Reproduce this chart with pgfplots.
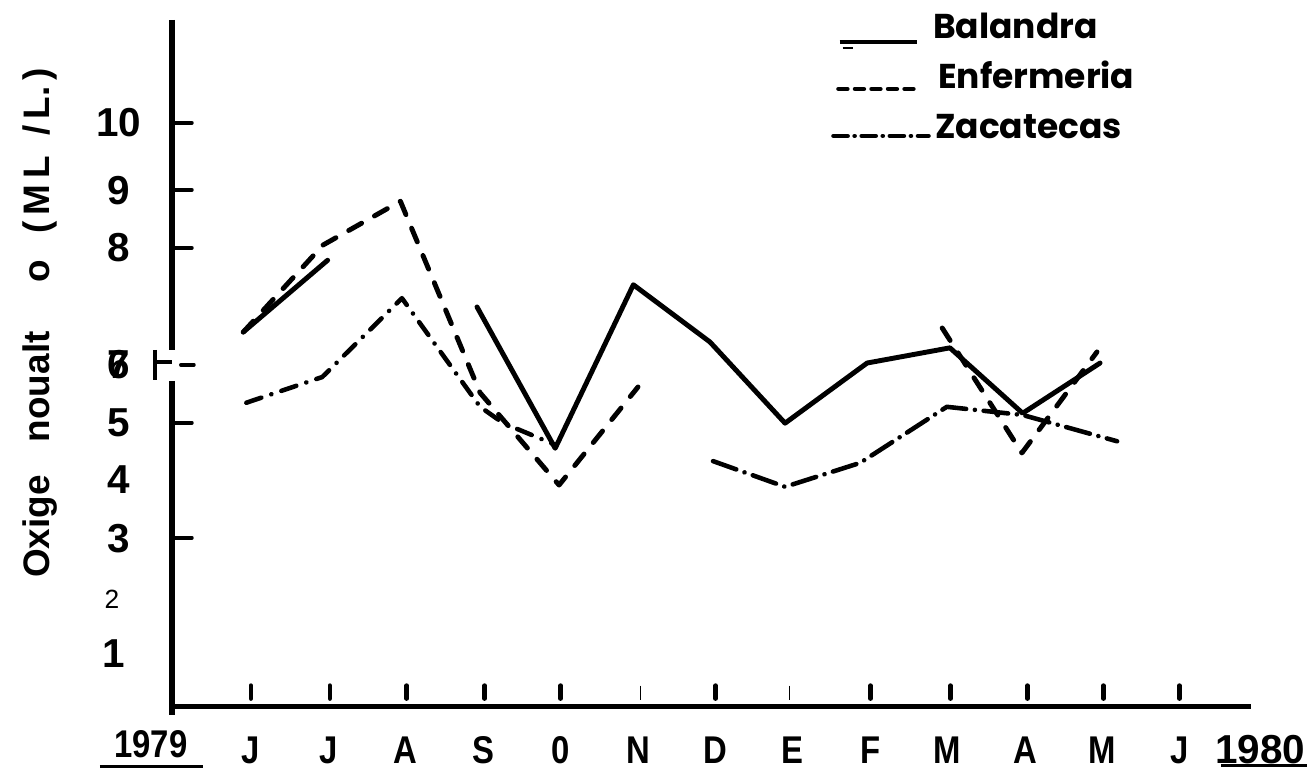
\documentclass[border=0pt]{standalone}
\usepackage{fontspec}
\setmainfont{Liberation Sans}
\newfontfamily\legfont{Poppins}
\usepackage{graphicx}
\usepackage{pgfplots}
\pgfplotsset{compat=1.18}
\newcommand\nar[1]{\scalebox{0.85}[1]{#1}}
\begin{document}
\begin{tikzpicture}
\useasboundingbox (0,0) rectangle (13.08cm,7.69cm);
\begin{axis}[at={(1.72cm,0.62cm)}, anchor=south west, scale only axis,
  width=10.80cm, height=6.87cm,
  xmin=-1.0207, xmax=12.933, ymin=0, ymax=11.764,
  axis line style={draw=none}, major tick length=0pt, clip=false,
  xtick={0,1,2,3,4,5,6,7,8,9,10,11,12},
  xticklabels={\nar{J},\nar{J},\nar{A},\nar{S},\nar{0},\nar{N},\nar{D},\nar{E},\nar{F},\nar{M},\nar{A},\nar{M},\nar{J}},
  xticklabel style={anchor=center, yshift=-0.43cm, font=\bfseries\fontsize{11}{13}\selectfont},
  ytick={10,8.85,7.86,5.86,4.86,3.89,2.89},
  yticklabels={10,9,8,6,5,4,3},
  yticklabel style={anchor=center, xshift=-0.53cm, font=\bfseries\fontsize{11.5}{13}\selectfont},
]
% Balandra (solid)
\addplot[black, line width=1.4pt, line join=round, line cap=round] coordinates {(-0.10,6.42) (0.99,7.65)};
\addplot[black, line width=1.4pt, line join=round, line cap=round] coordinates {
 (2.92,6.85) (3.93,4.43) (4.94,7.23) (5.93,6.25) (6.90,4.86) (7.96,5.89) (9.03,6.15) (9.97,5.03) (10.97,5.89)};
% Enfermeria (dashed)
\addplot[black, line width=1.4pt, line join=round, line cap=round, dash pattern=on 4.2pt off 4.2pt] coordinates {
 (-0.10,6.42) (0.93,7.91) (1.93,8.66) (2.96,5.38) (3.98,3.80) (5.00,5.48)};
\addplot[black, line width=1.4pt, line join=round, line cap=round, dash pattern=on 4.2pt off 4.2pt] coordinates {
 (8.93,6.49) (9.96,4.35) (10.93,6.08)};
% Zacatecas (dash-dot)
\addplot[black, line width=1.3pt, line join=round, line cap=round, dash pattern=on 4.5pt off 3pt on 0.01pt off 3pt] coordinates {
 (-0.06,5.21) (0.92,5.65) (1.95,7.00) (2.96,5.14) (3.26,4.86) (3.93,4.49)};
\addplot[black, line width=1.3pt, line join=round, line cap=round, dash pattern=on 7pt off 2.5pt on 0.01pt off 2.5pt] coordinates {
 (5.97,4.21) (6.90,3.77) (7.87,4.18) (8.99,5.14) (9.97,5.00) (11.19,4.55)};
\end{axis}
\begin{scope}[yshift=7.69cm, x=0.01cm, y=-0.01cm]
 % axes
 \draw[line width=1.5pt] (172,20) -- (172,350) (172,381) -- (172,715);
 \draw[line width=1.1pt] (155,350) -- (155,380) (155,362) -- (172,362);
 \foreach \yy in {123,190,248,423,538} \draw[line width=1.05pt, line cap=round] (174,\yy) -- (192,\yy);
 \draw[line width=1.05pt, line cap=round] (181,365) -- (194,365);
 \draw[line width=1.25pt] (175,707) -- (1252,707);
 \foreach \xx in {251,330,407,485,561,716,871,951,1028,1104,1180}
   \draw[line width=1.3pt, line cap=round] (\xx,686) -- (\xx,699);
 \foreach \xx in {641,790} \draw[line width=0.45pt] (\xx,686) -- (\xx,700);
 % extra y labels
 \node[font=\bfseries\fontsize{11.5}{13}\selectfont] at (119,365) {7};
 \node[font=\fontsize{7.5}{9}\selectfont] at (112,600) {2};
 \node[font=\bfseries\fontsize{11.5}{13}\selectfont] at (114,654) {1};
 % y axis title
 \begin{scope}[every node/.style={rotate=90, anchor=base, font=\bfseries\fontsize{10.5}{12}\selectfont}]
  \node at (50,527) {Oxige};
  \node at (50,387) {noualt};
  \node at (50,271) {o};
  \node at (50,151) {(\,M\,L\ \ /\,L.\,)};
 \end{scope}
 % years
 \node[font=\bfseries\fontsize{11}{13}\selectfont] at (151,745) {\nar{1979}};
 \draw[line width=0.6pt] (100,767) -- (203,767);
 \node[font=\bfseries\fontsize{11.5}{13}\selectfont] at (1261,750) {1980};
 \draw[line width=0.8pt] (1222,766) -- (1308,766);
 % legend
 \draw[line width=1.3pt] (840,42) -- (918,42);
 \draw[line width=0.6pt] (843,48) -- (853,48);
 \draw[line width=1.3pt, line cap=round, dash pattern=on 2.5pt off 2.2pt] (839,89) -- (918,89);
 \draw[line width=1.3pt, line cap=round, dash pattern=on 4pt off 2pt on 0.01pt off 2pt] (834,136) -- (929,136);
 \begin{scope}[every node/.style={anchor=base west, font=\legfont\bfseries\fontsize{9.8}{11}\selectfont, inner sep=0pt}]
  \node at (933,39) {Balandra};
  \node at (938,89) {Enfermeria};
  \node at (935,139) {Zacatecas};
 \end{scope}
\end{scope}
\end{tikzpicture}
\end{document}
